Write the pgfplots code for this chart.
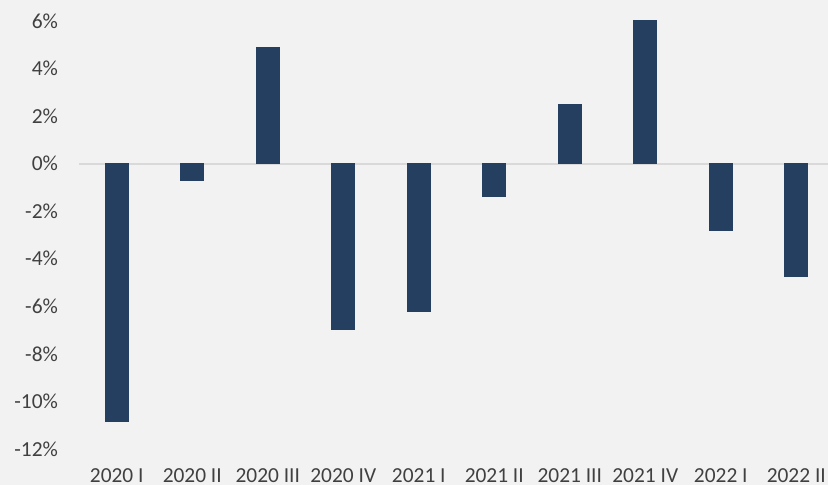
\documentclass[border=0pt]{standalone}
\usepackage{pgfplots}
\pgfplotsset{compat=1.18}
\usepackage{fontspec}
\setmainfont{Carlito}
\definecolor{bg}{HTML}{F2F2F2}
\definecolor{barc}{HTML}{243F60}
\definecolor{zl}{HTML}{D9D9D9}
\definecolor{txt}{HTML}{404040}
\begin{document}
\begin{tikzpicture}
\fill[bg] (0,0) rectangle (414pt,242.5pt);
\begin{axis}[
  at={(39.5pt,18pt)}, anchor=south west,
  scale only axis, width=377.5pt, height=214pt,
  xmin=-0.5, xmax=9.5, ymin=-12, ymax=6,
  ybar, bar width=11.5pt,
  axis line style={draw=none},
  major tick style={draw=none},
  xtick={0,...,9},
  xticklabels={2020 I,2020 II,2020 III,2020 IV,2021 I,2021 II,2021 III,2021 IV,2022 I,2022 II},
  ytick={-12,-10,...,6},
  yticklabels={-12\%,-10\%,-8\%,-6\%,-4\%,-2\%,0\%,2\%,4\%,6\%},
  extra y ticks={0}, extra y tick labels={},
  extra y tick style={grid=major, major grid style={zl, line width=0.9pt}},
  ticklabel style={font=\fontsize{10.7}{12}\selectfont, text=txt},
  xticklabel style={yshift=-2.2pt},
  yticklabel style={xshift=-7pt},
  /pgf/number format/assume math mode=true,
]
\addplot[fill=barc, draw=barc, line width=0.3pt] coordinates {
(0,-10.82) (1,-0.72) (2,4.88) (3,-6.95) (4,-6.23) (5,-1.39) (6,2.48) (7,6.02) (8,-2.82) (9,-4.72)};
\end{axis}
\pgfresetboundingbox
\path[use as bounding box] (0,0) rectangle (414pt,242.5pt);
\end{tikzpicture}
\end{document}
